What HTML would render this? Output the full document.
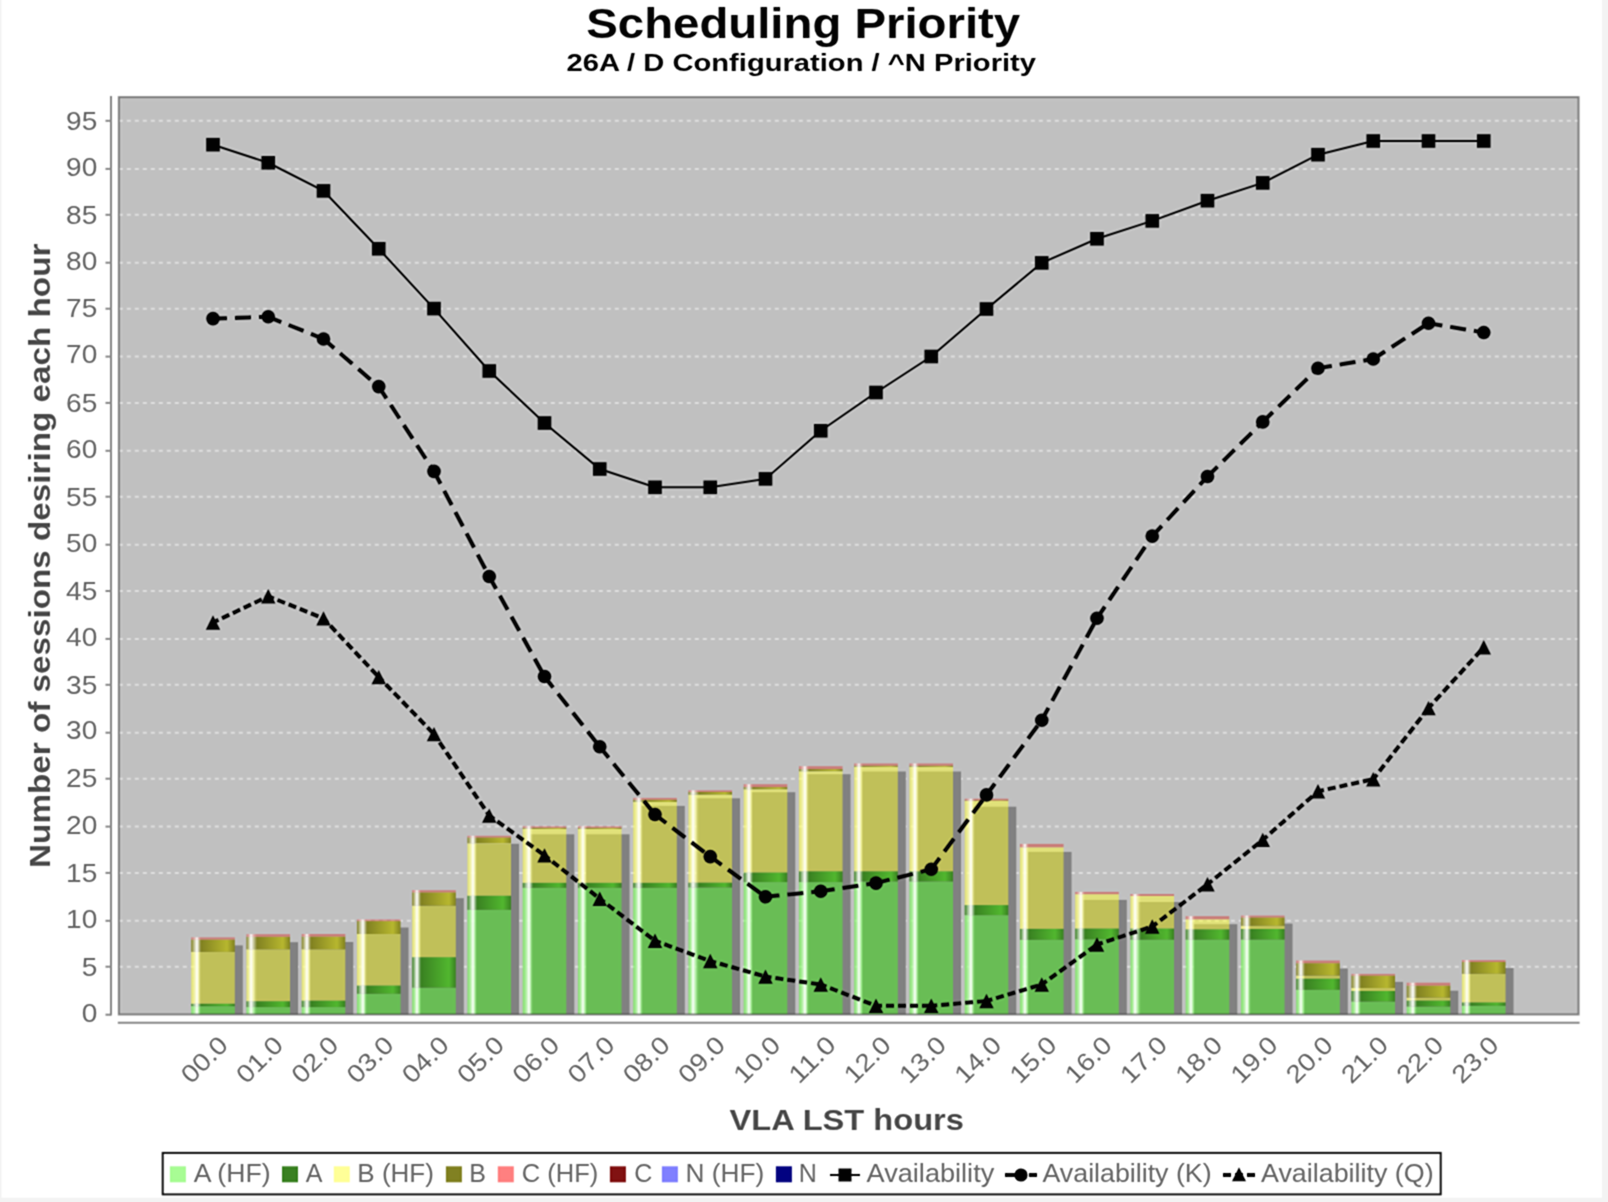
<!DOCTYPE html><html><head><meta charset="utf-8"><style>html,body{margin:0;padding:0;background:#f3f3f3;width:1608px;height:1202px}svg{display:block;will-change:transform}text{font-family:"Liberation Sans",sans-serif}</style></head><body>
<svg width="1608" height="1202" viewBox="0 0 1608 1202">
<defs>
<filter id="soft" x="0" y="0" width="1608" height="1202" filterUnits="userSpaceOnUse" color-interpolation-filters="sRGB"><feConvolveMatrix order="7" kernelMatrix="0.00027 0.00054 -0.00391 -0.01020 -0.00391 0.00054 0.00027 0.00054 0.00108 -0.00781 -0.02039 -0.00781 0.00108 0.00054 -0.00391 -0.00781 0.05678 0.14817 0.05678 -0.00781 -0.00391 -0.01020 -0.02039 0.14817 0.38668 0.14817 -0.02039 -0.01020 -0.00391 -0.00781 0.05678 0.14817 0.05678 -0.00781 -0.00391 0.00054 0.00108 -0.00781 -0.02039 -0.00781 0.00108 0.00054 0.00027 0.00054 -0.00391 -0.01020 -0.00391 0.00054 0.00027" divisor="1" edgeMode="duplicate"/></filter>
<linearGradient id="g00" x1="0" y1="0" x2="1" y2="0"><stop offset="0" stop-color="rgb(80,250,40)" stop-opacity="0.5"/><stop offset="1" stop-color="#fff" stop-opacity="1"/></linearGradient>
<linearGradient id="g01" x1="0" y1="0" x2="1" y2="0"><stop offset="0" stop-color="#fff" stop-opacity="1"/><stop offset="1" stop-color="rgb(80,250,40)" stop-opacity="0.5"/></linearGradient>
<linearGradient id="g02" x1="0" y1="0" x2="1" y2="0"><stop offset="0" stop-color="rgb(80,250,40)" stop-opacity="0.5"/><stop offset="1" stop-color="rgb(80,250,40)" stop-opacity="0.5"/></linearGradient>
<linearGradient id="g03" x1="0" y1="0" x2="1" y2="0"><stop offset="0" stop-color="rgb(80,250,40)" stop-opacity="0.5"/><stop offset="1" stop-color="rgb(80,250,40)" stop-opacity="0.5"/></linearGradient>
<linearGradient id="g10" x1="0" y1="0" x2="1" y2="0"><stop offset="0" stop-color="rgb(56,128,32)" stop-opacity="1.0"/><stop offset="1" stop-color="#fff" stop-opacity="1"/></linearGradient>
<linearGradient id="g11" x1="0" y1="0" x2="1" y2="0"><stop offset="0" stop-color="#fff" stop-opacity="1"/><stop offset="1" stop-color="rgb(56,128,32)" stop-opacity="1.0"/></linearGradient>
<linearGradient id="g12" x1="0" y1="0" x2="1" y2="0"><stop offset="0" stop-color="rgb(56,128,32)" stop-opacity="1.0"/><stop offset="1" stop-color="rgb(80,182,45)" stop-opacity="1.0"/></linearGradient>
<linearGradient id="g13" x1="0" y1="0" x2="1" y2="0"><stop offset="0" stop-color="rgb(80,182,45)" stop-opacity="1.0"/><stop offset="1" stop-color="rgb(56,128,32)" stop-opacity="1.0"/></linearGradient>
<linearGradient id="g20" x1="0" y1="0" x2="1" y2="0"><stop offset="0" stop-color="rgb(255,255,48)" stop-opacity="0.5"/><stop offset="1" stop-color="#fff" stop-opacity="1"/></linearGradient>
<linearGradient id="g21" x1="0" y1="0" x2="1" y2="0"><stop offset="0" stop-color="#fff" stop-opacity="1"/><stop offset="1" stop-color="rgb(255,255,48)" stop-opacity="0.5"/></linearGradient>
<linearGradient id="g22" x1="0" y1="0" x2="1" y2="0"><stop offset="0" stop-color="rgb(255,255,48)" stop-opacity="0.5"/><stop offset="1" stop-color="rgb(255,255,48)" stop-opacity="0.5"/></linearGradient>
<linearGradient id="g23" x1="0" y1="0" x2="1" y2="0"><stop offset="0" stop-color="rgb(255,255,48)" stop-opacity="0.5"/><stop offset="1" stop-color="rgb(255,255,48)" stop-opacity="0.5"/></linearGradient>
<linearGradient id="g30" x1="0" y1="0" x2="1" y2="0"><stop offset="0" stop-color="rgb(128,128,32)" stop-opacity="1.0"/><stop offset="1" stop-color="#fff" stop-opacity="1"/></linearGradient>
<linearGradient id="g31" x1="0" y1="0" x2="1" y2="0"><stop offset="0" stop-color="#fff" stop-opacity="1"/><stop offset="1" stop-color="rgb(128,128,32)" stop-opacity="1.0"/></linearGradient>
<linearGradient id="g32" x1="0" y1="0" x2="1" y2="0"><stop offset="0" stop-color="rgb(128,128,32)" stop-opacity="1.0"/><stop offset="1" stop-color="rgb(182,182,45)" stop-opacity="1.0"/></linearGradient>
<linearGradient id="g33" x1="0" y1="0" x2="1" y2="0"><stop offset="0" stop-color="rgb(182,182,45)" stop-opacity="1.0"/><stop offset="1" stop-color="rgb(128,128,32)" stop-opacity="1.0"/></linearGradient>
<linearGradient id="g40" x1="0" y1="0" x2="1" y2="0"><stop offset="0" stop-color="rgb(210,60,50)" stop-opacity="0.5"/><stop offset="1" stop-color="#fff" stop-opacity="1"/></linearGradient>
<linearGradient id="g41" x1="0" y1="0" x2="1" y2="0"><stop offset="0" stop-color="#fff" stop-opacity="1"/><stop offset="1" stop-color="rgb(210,60,50)" stop-opacity="0.5"/></linearGradient>
<linearGradient id="g42" x1="0" y1="0" x2="1" y2="0"><stop offset="0" stop-color="rgb(210,60,50)" stop-opacity="0.5"/><stop offset="1" stop-color="rgb(210,60,50)" stop-opacity="0.5"/></linearGradient>
<linearGradient id="g43" x1="0" y1="0" x2="1" y2="0"><stop offset="0" stop-color="rgb(210,60,50)" stop-opacity="0.5"/><stop offset="1" stop-color="rgb(210,60,50)" stop-opacity="0.5"/></linearGradient>
<linearGradient id="g50" x1="0" y1="0" x2="1" y2="0"><stop offset="0" stop-color="rgb(128,16,16)" stop-opacity="1.0"/><stop offset="1" stop-color="#fff" stop-opacity="1"/></linearGradient>
<linearGradient id="g51" x1="0" y1="0" x2="1" y2="0"><stop offset="0" stop-color="#fff" stop-opacity="1"/><stop offset="1" stop-color="rgb(128,16,16)" stop-opacity="1.0"/></linearGradient>
<linearGradient id="g52" x1="0" y1="0" x2="1" y2="0"><stop offset="0" stop-color="rgb(128,16,16)" stop-opacity="1.0"/><stop offset="1" stop-color="rgb(182,22,22)" stop-opacity="1.0"/></linearGradient>
<linearGradient id="g53" x1="0" y1="0" x2="1" y2="0"><stop offset="0" stop-color="rgb(182,22,22)" stop-opacity="1.0"/><stop offset="1" stop-color="rgb(128,16,16)" stop-opacity="1.0"/></linearGradient>
<linearGradient id="g60" x1="0" y1="0" x2="1" y2="0"><stop offset="0" stop-color="rgb(0,0,255)" stop-opacity="0.5"/><stop offset="1" stop-color="#fff" stop-opacity="1"/></linearGradient>
<linearGradient id="g61" x1="0" y1="0" x2="1" y2="0"><stop offset="0" stop-color="#fff" stop-opacity="1"/><stop offset="1" stop-color="rgb(0,0,255)" stop-opacity="0.5"/></linearGradient>
<linearGradient id="g62" x1="0" y1="0" x2="1" y2="0"><stop offset="0" stop-color="rgb(0,0,255)" stop-opacity="0.5"/><stop offset="1" stop-color="rgb(0,0,255)" stop-opacity="0.5"/></linearGradient>
<linearGradient id="g63" x1="0" y1="0" x2="1" y2="0"><stop offset="0" stop-color="rgb(0,0,255)" stop-opacity="0.5"/><stop offset="1" stop-color="rgb(0,0,255)" stop-opacity="0.5"/></linearGradient>
<linearGradient id="g70" x1="0" y1="0" x2="1" y2="0"><stop offset="0" stop-color="rgb(0,0,128)" stop-opacity="1.0"/><stop offset="1" stop-color="#fff" stop-opacity="1"/></linearGradient>
<linearGradient id="g71" x1="0" y1="0" x2="1" y2="0"><stop offset="0" stop-color="#fff" stop-opacity="1"/><stop offset="1" stop-color="rgb(0,0,128)" stop-opacity="1.0"/></linearGradient>
<linearGradient id="g72" x1="0" y1="0" x2="1" y2="0"><stop offset="0" stop-color="rgb(0,0,128)" stop-opacity="1.0"/><stop offset="1" stop-color="rgb(0,0,182)" stop-opacity="1.0"/></linearGradient>
<linearGradient id="g73" x1="0" y1="0" x2="1" y2="0"><stop offset="0" stop-color="rgb(0,0,182)" stop-opacity="1.0"/><stop offset="1" stop-color="rgb(0,0,128)" stop-opacity="1.0"/></linearGradient>
<clipPath id="plotclip"><rect x="118.80" y="97.10" width="1459.80" height="917.40"/></clipPath>
</defs>
<g filter="url(#soft)">
<rect x="1.5" y="0" width="1600.5" height="1197.7" fill="#fff"/>
<rect x="118.80" y="97.10" width="1459.80" height="917.40" fill="#c0c0c0"/>
<line x1="118.80" y1="966.70" x2="1578.60" y2="966.70" stroke="#dcdcdc" stroke-width="2" stroke-dasharray="4 4"/>
<line x1="118.80" y1="920.80" x2="1578.60" y2="920.80" stroke="#dcdcdc" stroke-width="2" stroke-dasharray="4 4"/>
<line x1="118.80" y1="872.90" x2="1578.60" y2="872.90" stroke="#dcdcdc" stroke-width="2" stroke-dasharray="4 4"/>
<line x1="118.80" y1="826.60" x2="1578.60" y2="826.60" stroke="#dcdcdc" stroke-width="2" stroke-dasharray="4 4"/>
<line x1="118.80" y1="778.70" x2="1578.60" y2="778.70" stroke="#dcdcdc" stroke-width="2" stroke-dasharray="4 4"/>
<line x1="118.80" y1="732.70" x2="1578.60" y2="732.70" stroke="#dcdcdc" stroke-width="2" stroke-dasharray="4 4"/>
<line x1="118.80" y1="684.80" x2="1578.60" y2="684.80" stroke="#dcdcdc" stroke-width="2" stroke-dasharray="4 4"/>
<line x1="118.80" y1="638.90" x2="1578.60" y2="638.90" stroke="#dcdcdc" stroke-width="2" stroke-dasharray="4 4"/>
<line x1="118.80" y1="591.00" x2="1578.60" y2="591.00" stroke="#dcdcdc" stroke-width="2" stroke-dasharray="4 4"/>
<line x1="118.80" y1="544.70" x2="1578.60" y2="544.70" stroke="#dcdcdc" stroke-width="2" stroke-dasharray="4 4"/>
<line x1="118.80" y1="496.70" x2="1578.60" y2="496.70" stroke="#dcdcdc" stroke-width="2" stroke-dasharray="4 4"/>
<line x1="118.80" y1="450.80" x2="1578.60" y2="450.80" stroke="#dcdcdc" stroke-width="2" stroke-dasharray="4 4"/>
<line x1="118.80" y1="402.90" x2="1578.60" y2="402.90" stroke="#dcdcdc" stroke-width="2" stroke-dasharray="4 4"/>
<line x1="118.80" y1="356.60" x2="1578.60" y2="356.60" stroke="#dcdcdc" stroke-width="2" stroke-dasharray="4 4"/>
<line x1="118.80" y1="308.70" x2="1578.60" y2="308.70" stroke="#dcdcdc" stroke-width="2" stroke-dasharray="4 4"/>
<line x1="118.80" y1="262.70" x2="1578.60" y2="262.70" stroke="#dcdcdc" stroke-width="2" stroke-dasharray="4 4"/>
<line x1="118.80" y1="214.80" x2="1578.60" y2="214.80" stroke="#dcdcdc" stroke-width="2" stroke-dasharray="4 4"/>
<line x1="118.80" y1="168.90" x2="1578.60" y2="168.90" stroke="#dcdcdc" stroke-width="2" stroke-dasharray="4 4"/>
<line x1="118.80" y1="120.80" x2="1578.60" y2="120.80" stroke="#dcdcdc" stroke-width="2" stroke-dasharray="4 4"/>
<g clip-path="url(#plotclip)">
<rect x="199.20" y="945.40" width="43.60" height="69.10" fill="#808080"/>
<rect x="254.45" y="942.20" width="43.60" height="72.30" fill="#808080"/>
<rect x="309.70" y="942.00" width="43.60" height="72.50" fill="#808080"/>
<rect x="364.95" y="927.50" width="43.60" height="87.00" fill="#808080"/>
<rect x="420.20" y="898.20" width="43.60" height="116.30" fill="#808080"/>
<rect x="475.45" y="843.80" width="43.60" height="170.70" fill="#808080"/>
<rect x="530.70" y="834.30" width="43.60" height="180.20" fill="#808080"/>
<rect x="585.95" y="834.30" width="43.60" height="180.20" fill="#808080"/>
<rect x="641.20" y="805.90" width="43.60" height="208.60" fill="#808080"/>
<rect x="696.45" y="798.30" width="43.60" height="216.20" fill="#808080"/>
<rect x="751.70" y="792.20" width="43.60" height="222.30" fill="#808080"/>
<rect x="806.95" y="774.20" width="43.60" height="240.30" fill="#808080"/>
<rect x="862.20" y="771.50" width="43.60" height="243.00" fill="#808080"/>
<rect x="917.45" y="771.50" width="43.60" height="243.00" fill="#808080"/>
<rect x="972.70" y="806.70" width="43.60" height="207.80" fill="#808080"/>
<rect x="1027.95" y="851.90" width="43.60" height="162.60" fill="#808080"/>
<rect x="1083.20" y="899.90" width="43.60" height="114.60" fill="#808080"/>
<rect x="1138.45" y="902.00" width="43.60" height="112.50" fill="#808080"/>
<rect x="1193.70" y="924.20" width="43.60" height="90.30" fill="#808080"/>
<rect x="1248.95" y="923.60" width="43.60" height="90.90" fill="#808080"/>
<rect x="1304.20" y="968.50" width="43.60" height="46.00" fill="#808080"/>
<rect x="1359.45" y="981.90" width="43.60" height="32.60" fill="#808080"/>
<rect x="1414.70" y="990.70" width="43.60" height="23.80" fill="#808080"/>
<rect x="1469.95" y="968.10" width="43.60" height="46.40" fill="#808080"/>
<rect x="191.20" y="1006.20" width="5.80" height="8.30" fill="url(#g00)"/>
<rect x="197.00" y="1006.20" width="4.00" height="8.30" fill="url(#g01)"/>
<rect x="201.00" y="1006.20" width="26.00" height="8.30" fill="url(#g02)"/>
<rect x="227.00" y="1006.20" width="7.80" height="8.30" fill="url(#g03)"/>
<rect x="191.20" y="1003.70" width="5.80" height="2.50" fill="url(#g10)"/>
<rect x="197.00" y="1003.70" width="4.00" height="2.50" fill="url(#g11)"/>
<rect x="201.00" y="1003.70" width="26.00" height="2.50" fill="url(#g12)"/>
<rect x="227.00" y="1003.70" width="7.80" height="2.50" fill="url(#g13)"/>
<rect x="191.20" y="951.90" width="5.80" height="51.80" fill="url(#g20)"/>
<rect x="197.00" y="951.90" width="4.00" height="51.80" fill="url(#g21)"/>
<rect x="201.00" y="951.90" width="26.00" height="51.80" fill="url(#g22)"/>
<rect x="227.00" y="951.90" width="7.80" height="51.80" fill="url(#g23)"/>
<rect x="191.20" y="939.60" width="5.80" height="12.30" fill="url(#g30)"/>
<rect x="197.00" y="939.60" width="4.00" height="12.30" fill="url(#g31)"/>
<rect x="201.00" y="939.60" width="26.00" height="12.30" fill="url(#g32)"/>
<rect x="227.00" y="939.60" width="7.80" height="12.30" fill="url(#g33)"/>
<rect x="191.20" y="937.40" width="5.80" height="2.20" fill="url(#g40)"/>
<rect x="197.00" y="937.40" width="4.00" height="2.20" fill="url(#g41)"/>
<rect x="201.00" y="937.40" width="26.00" height="2.20" fill="url(#g42)"/>
<rect x="227.00" y="937.40" width="7.80" height="2.20" fill="url(#g43)"/>
<rect x="246.45" y="1007.10" width="4.55" height="7.40" fill="url(#g00)"/>
<rect x="251.00" y="1007.10" width="6.00" height="7.40" fill="url(#g01)"/>
<rect x="257.00" y="1007.10" width="26.00" height="7.40" fill="url(#g02)"/>
<rect x="283.00" y="1007.10" width="7.05" height="7.40" fill="url(#g03)"/>
<rect x="246.45" y="1001.20" width="4.55" height="5.90" fill="url(#g10)"/>
<rect x="251.00" y="1001.20" width="6.00" height="5.90" fill="url(#g11)"/>
<rect x="257.00" y="1001.20" width="26.00" height="5.90" fill="url(#g12)"/>
<rect x="283.00" y="1001.20" width="7.05" height="5.90" fill="url(#g13)"/>
<rect x="246.45" y="949.30" width="4.55" height="51.90" fill="url(#g20)"/>
<rect x="251.00" y="949.30" width="6.00" height="51.90" fill="url(#g21)"/>
<rect x="257.00" y="949.30" width="26.00" height="51.90" fill="url(#g22)"/>
<rect x="283.00" y="949.30" width="7.05" height="51.90" fill="url(#g23)"/>
<rect x="246.45" y="936.80" width="4.55" height="12.50" fill="url(#g30)"/>
<rect x="251.00" y="936.80" width="6.00" height="12.50" fill="url(#g31)"/>
<rect x="257.00" y="936.80" width="26.00" height="12.50" fill="url(#g32)"/>
<rect x="283.00" y="936.80" width="7.05" height="12.50" fill="url(#g33)"/>
<rect x="246.45" y="934.20" width="4.55" height="2.60" fill="url(#g40)"/>
<rect x="251.00" y="934.20" width="6.00" height="2.60" fill="url(#g41)"/>
<rect x="257.00" y="934.20" width="26.00" height="2.60" fill="url(#g42)"/>
<rect x="283.00" y="934.20" width="7.05" height="2.60" fill="url(#g43)"/>
<rect x="301.70" y="1007.10" width="5.30" height="7.40" fill="url(#g00)"/>
<rect x="307.00" y="1007.10" width="4.00" height="7.40" fill="url(#g01)"/>
<rect x="311.00" y="1007.10" width="26.00" height="7.40" fill="url(#g02)"/>
<rect x="337.00" y="1007.10" width="8.30" height="7.40" fill="url(#g03)"/>
<rect x="301.70" y="1000.60" width="5.30" height="6.50" fill="url(#g10)"/>
<rect x="307.00" y="1000.60" width="4.00" height="6.50" fill="url(#g11)"/>
<rect x="311.00" y="1000.60" width="26.00" height="6.50" fill="url(#g12)"/>
<rect x="337.00" y="1000.60" width="8.30" height="6.50" fill="url(#g13)"/>
<rect x="301.70" y="949.30" width="5.30" height="51.30" fill="url(#g20)"/>
<rect x="307.00" y="949.30" width="4.00" height="51.30" fill="url(#g21)"/>
<rect x="311.00" y="949.30" width="26.00" height="51.30" fill="url(#g22)"/>
<rect x="337.00" y="949.30" width="8.30" height="51.30" fill="url(#g23)"/>
<rect x="301.70" y="936.60" width="5.30" height="12.70" fill="url(#g30)"/>
<rect x="307.00" y="936.60" width="4.00" height="12.70" fill="url(#g31)"/>
<rect x="311.00" y="936.60" width="26.00" height="12.70" fill="url(#g32)"/>
<rect x="337.00" y="936.60" width="8.30" height="12.70" fill="url(#g33)"/>
<rect x="301.70" y="934.00" width="5.30" height="2.60" fill="url(#g40)"/>
<rect x="307.00" y="934.00" width="4.00" height="2.60" fill="url(#g41)"/>
<rect x="311.00" y="934.00" width="26.00" height="2.60" fill="url(#g42)"/>
<rect x="337.00" y="934.00" width="8.30" height="2.60" fill="url(#g43)"/>
<rect x="356.95" y="993.80" width="6.05" height="20.70" fill="url(#g00)"/>
<rect x="363.00" y="993.80" width="4.00" height="20.70" fill="url(#g01)"/>
<rect x="367.00" y="993.80" width="26.00" height="20.70" fill="url(#g02)"/>
<rect x="393.00" y="993.80" width="7.55" height="20.70" fill="url(#g03)"/>
<rect x="356.95" y="985.50" width="6.05" height="8.30" fill="url(#g10)"/>
<rect x="363.00" y="985.50" width="4.00" height="8.30" fill="url(#g11)"/>
<rect x="367.00" y="985.50" width="26.00" height="8.30" fill="url(#g12)"/>
<rect x="393.00" y="985.50" width="7.55" height="8.30" fill="url(#g13)"/>
<rect x="356.95" y="934.00" width="6.05" height="51.50" fill="url(#g20)"/>
<rect x="363.00" y="934.00" width="4.00" height="51.50" fill="url(#g21)"/>
<rect x="367.00" y="934.00" width="26.00" height="51.50" fill="url(#g22)"/>
<rect x="393.00" y="934.00" width="7.55" height="51.50" fill="url(#g23)"/>
<rect x="356.95" y="921.10" width="6.05" height="12.90" fill="url(#g30)"/>
<rect x="363.00" y="921.10" width="4.00" height="12.90" fill="url(#g31)"/>
<rect x="367.00" y="921.10" width="26.00" height="12.90" fill="url(#g32)"/>
<rect x="393.00" y="921.10" width="7.55" height="12.90" fill="url(#g33)"/>
<rect x="356.95" y="919.50" width="6.05" height="1.60" fill="url(#g40)"/>
<rect x="363.00" y="919.50" width="4.00" height="1.60" fill="url(#g41)"/>
<rect x="367.00" y="919.50" width="26.00" height="1.60" fill="url(#g42)"/>
<rect x="393.00" y="919.50" width="7.55" height="1.60" fill="url(#g43)"/>
<rect x="412.20" y="987.70" width="4.80" height="26.80" fill="url(#g00)"/>
<rect x="417.00" y="987.70" width="4.00" height="26.80" fill="url(#g01)"/>
<rect x="421.00" y="987.70" width="28.00" height="26.80" fill="url(#g02)"/>
<rect x="449.00" y="987.70" width="6.80" height="26.80" fill="url(#g03)"/>
<rect x="412.20" y="957.20" width="4.80" height="30.50" fill="url(#g10)"/>
<rect x="417.00" y="957.20" width="4.00" height="30.50" fill="url(#g11)"/>
<rect x="421.00" y="957.20" width="28.00" height="30.50" fill="url(#g12)"/>
<rect x="449.00" y="957.20" width="6.80" height="30.50" fill="url(#g13)"/>
<rect x="412.20" y="905.70" width="4.80" height="51.50" fill="url(#g20)"/>
<rect x="417.00" y="905.70" width="4.00" height="51.50" fill="url(#g21)"/>
<rect x="421.00" y="905.70" width="28.00" height="51.50" fill="url(#g22)"/>
<rect x="449.00" y="905.70" width="6.80" height="51.50" fill="url(#g23)"/>
<rect x="412.20" y="892.40" width="4.80" height="13.30" fill="url(#g30)"/>
<rect x="417.00" y="892.40" width="4.00" height="13.30" fill="url(#g31)"/>
<rect x="421.00" y="892.40" width="28.00" height="13.30" fill="url(#g32)"/>
<rect x="449.00" y="892.40" width="6.80" height="13.30" fill="url(#g33)"/>
<rect x="412.20" y="890.20" width="4.80" height="2.20" fill="url(#g40)"/>
<rect x="417.00" y="890.20" width="4.00" height="2.20" fill="url(#g41)"/>
<rect x="421.00" y="890.20" width="28.00" height="2.20" fill="url(#g42)"/>
<rect x="449.00" y="890.20" width="6.80" height="2.20" fill="url(#g43)"/>
<rect x="467.45" y="909.80" width="5.55" height="104.70" fill="url(#g00)"/>
<rect x="473.00" y="909.80" width="4.00" height="104.70" fill="url(#g01)"/>
<rect x="477.00" y="909.80" width="26.00" height="104.70" fill="url(#g02)"/>
<rect x="503.00" y="909.80" width="8.05" height="104.70" fill="url(#g03)"/>
<rect x="467.45" y="895.70" width="5.55" height="14.10" fill="url(#g10)"/>
<rect x="473.00" y="895.70" width="4.00" height="14.10" fill="url(#g11)"/>
<rect x="477.00" y="895.70" width="26.00" height="14.10" fill="url(#g12)"/>
<rect x="503.00" y="895.70" width="8.05" height="14.10" fill="url(#g13)"/>
<rect x="467.45" y="843.30" width="5.55" height="52.40" fill="url(#g20)"/>
<rect x="473.00" y="843.30" width="4.00" height="52.40" fill="url(#g21)"/>
<rect x="477.00" y="843.30" width="26.00" height="52.40" fill="url(#g22)"/>
<rect x="503.00" y="843.30" width="8.05" height="52.40" fill="url(#g23)"/>
<rect x="467.45" y="837.50" width="5.55" height="5.80" fill="url(#g30)"/>
<rect x="473.00" y="837.50" width="4.00" height="5.80" fill="url(#g31)"/>
<rect x="477.00" y="837.50" width="26.00" height="5.80" fill="url(#g32)"/>
<rect x="503.00" y="837.50" width="8.05" height="5.80" fill="url(#g33)"/>
<rect x="467.45" y="835.80" width="5.55" height="1.70" fill="url(#g40)"/>
<rect x="473.00" y="835.80" width="4.00" height="1.70" fill="url(#g41)"/>
<rect x="477.00" y="835.80" width="26.00" height="1.70" fill="url(#g42)"/>
<rect x="503.00" y="835.80" width="8.05" height="1.70" fill="url(#g43)"/>
<rect x="522.70" y="887.80" width="6.30" height="126.70" fill="url(#g00)"/>
<rect x="529.00" y="887.80" width="4.00" height="126.70" fill="url(#g01)"/>
<rect x="533.00" y="887.80" width="26.00" height="126.70" fill="url(#g02)"/>
<rect x="559.00" y="887.80" width="7.30" height="126.70" fill="url(#g03)"/>
<rect x="522.70" y="882.80" width="6.30" height="5.00" fill="url(#g10)"/>
<rect x="529.00" y="882.80" width="4.00" height="5.00" fill="url(#g11)"/>
<rect x="533.00" y="882.80" width="26.00" height="5.00" fill="url(#g12)"/>
<rect x="559.00" y="882.80" width="7.30" height="5.00" fill="url(#g13)"/>
<rect x="522.70" y="828.90" width="6.30" height="53.90" fill="url(#g20)"/>
<rect x="529.00" y="828.90" width="4.00" height="53.90" fill="url(#g21)"/>
<rect x="533.00" y="828.90" width="26.00" height="53.90" fill="url(#g22)"/>
<rect x="559.00" y="828.90" width="7.30" height="53.90" fill="url(#g23)"/>
<rect x="522.70" y="827.80" width="6.30" height="1.10" fill="url(#g30)"/>
<rect x="529.00" y="827.80" width="4.00" height="1.10" fill="url(#g31)"/>
<rect x="533.00" y="827.80" width="26.00" height="1.10" fill="url(#g32)"/>
<rect x="559.00" y="827.80" width="7.30" height="1.10" fill="url(#g33)"/>
<rect x="522.70" y="826.30" width="6.30" height="1.50" fill="url(#g40)"/>
<rect x="529.00" y="826.30" width="4.00" height="1.50" fill="url(#g41)"/>
<rect x="533.00" y="826.30" width="26.00" height="1.50" fill="url(#g42)"/>
<rect x="559.00" y="826.30" width="7.30" height="1.50" fill="url(#g43)"/>
<rect x="577.95" y="887.80" width="5.05" height="126.70" fill="url(#g00)"/>
<rect x="583.00" y="887.80" width="4.00" height="126.70" fill="url(#g01)"/>
<rect x="587.00" y="887.80" width="26.00" height="126.70" fill="url(#g02)"/>
<rect x="613.00" y="887.80" width="8.55" height="126.70" fill="url(#g03)"/>
<rect x="577.95" y="882.80" width="5.05" height="5.00" fill="url(#g10)"/>
<rect x="583.00" y="882.80" width="4.00" height="5.00" fill="url(#g11)"/>
<rect x="587.00" y="882.80" width="26.00" height="5.00" fill="url(#g12)"/>
<rect x="613.00" y="882.80" width="8.55" height="5.00" fill="url(#g13)"/>
<rect x="577.95" y="828.90" width="5.05" height="53.90" fill="url(#g20)"/>
<rect x="583.00" y="828.90" width="4.00" height="53.90" fill="url(#g21)"/>
<rect x="587.00" y="828.90" width="26.00" height="53.90" fill="url(#g22)"/>
<rect x="613.00" y="828.90" width="8.55" height="53.90" fill="url(#g23)"/>
<rect x="577.95" y="827.80" width="5.05" height="1.10" fill="url(#g30)"/>
<rect x="583.00" y="827.80" width="4.00" height="1.10" fill="url(#g31)"/>
<rect x="587.00" y="827.80" width="26.00" height="1.10" fill="url(#g32)"/>
<rect x="613.00" y="827.80" width="8.55" height="1.10" fill="url(#g33)"/>
<rect x="577.95" y="826.30" width="5.05" height="1.50" fill="url(#g40)"/>
<rect x="583.00" y="826.30" width="4.00" height="1.50" fill="url(#g41)"/>
<rect x="587.00" y="826.30" width="26.00" height="1.50" fill="url(#g42)"/>
<rect x="613.00" y="826.30" width="8.55" height="1.50" fill="url(#g43)"/>
<rect x="633.20" y="887.80" width="5.80" height="126.70" fill="url(#g00)"/>
<rect x="639.00" y="887.80" width="4.00" height="126.70" fill="url(#g01)"/>
<rect x="643.00" y="887.80" width="26.00" height="126.70" fill="url(#g02)"/>
<rect x="669.00" y="887.80" width="7.80" height="126.70" fill="url(#g03)"/>
<rect x="633.20" y="882.80" width="5.80" height="5.00" fill="url(#g10)"/>
<rect x="639.00" y="882.80" width="4.00" height="5.00" fill="url(#g11)"/>
<rect x="643.00" y="882.80" width="26.00" height="5.00" fill="url(#g12)"/>
<rect x="669.00" y="882.80" width="7.80" height="5.00" fill="url(#g13)"/>
<rect x="633.20" y="801.90" width="5.80" height="80.90" fill="url(#g20)"/>
<rect x="639.00" y="801.90" width="4.00" height="80.90" fill="url(#g21)"/>
<rect x="643.00" y="801.90" width="26.00" height="80.90" fill="url(#g22)"/>
<rect x="669.00" y="801.90" width="7.80" height="80.90" fill="url(#g23)"/>
<rect x="633.20" y="799.80" width="5.80" height="2.10" fill="url(#g30)"/>
<rect x="639.00" y="799.80" width="4.00" height="2.10" fill="url(#g31)"/>
<rect x="643.00" y="799.80" width="26.00" height="2.10" fill="url(#g32)"/>
<rect x="669.00" y="799.80" width="7.80" height="2.10" fill="url(#g33)"/>
<rect x="633.20" y="797.90" width="5.80" height="1.90" fill="url(#g40)"/>
<rect x="639.00" y="797.90" width="4.00" height="1.90" fill="url(#g41)"/>
<rect x="643.00" y="797.90" width="26.00" height="1.90" fill="url(#g42)"/>
<rect x="669.00" y="797.90" width="7.80" height="1.90" fill="url(#g43)"/>
<rect x="688.45" y="887.50" width="4.55" height="127.00" fill="url(#g00)"/>
<rect x="693.00" y="887.50" width="6.00" height="127.00" fill="url(#g01)"/>
<rect x="699.00" y="887.50" width="26.00" height="127.00" fill="url(#g02)"/>
<rect x="725.00" y="887.50" width="7.05" height="127.00" fill="url(#g03)"/>
<rect x="688.45" y="882.60" width="4.55" height="4.90" fill="url(#g10)"/>
<rect x="693.00" y="882.60" width="6.00" height="4.90" fill="url(#g11)"/>
<rect x="699.00" y="882.60" width="26.00" height="4.90" fill="url(#g12)"/>
<rect x="725.00" y="882.60" width="7.05" height="4.90" fill="url(#g13)"/>
<rect x="688.45" y="794.70" width="4.55" height="87.90" fill="url(#g20)"/>
<rect x="693.00" y="794.70" width="6.00" height="87.90" fill="url(#g21)"/>
<rect x="699.00" y="794.70" width="26.00" height="87.90" fill="url(#g22)"/>
<rect x="725.00" y="794.70" width="7.05" height="87.90" fill="url(#g23)"/>
<rect x="688.45" y="792.00" width="4.55" height="2.70" fill="url(#g30)"/>
<rect x="693.00" y="792.00" width="6.00" height="2.70" fill="url(#g31)"/>
<rect x="699.00" y="792.00" width="26.00" height="2.70" fill="url(#g32)"/>
<rect x="725.00" y="792.00" width="7.05" height="2.70" fill="url(#g33)"/>
<rect x="688.45" y="790.30" width="4.55" height="1.70" fill="url(#g40)"/>
<rect x="693.00" y="790.30" width="6.00" height="1.70" fill="url(#g41)"/>
<rect x="699.00" y="790.30" width="26.00" height="1.70" fill="url(#g42)"/>
<rect x="725.00" y="790.30" width="7.05" height="1.70" fill="url(#g43)"/>
<rect x="743.70" y="882.10" width="5.30" height="132.40" fill="url(#g00)"/>
<rect x="749.00" y="882.10" width="4.00" height="132.40" fill="url(#g01)"/>
<rect x="753.00" y="882.10" width="26.00" height="132.40" fill="url(#g02)"/>
<rect x="779.00" y="882.10" width="8.30" height="132.40" fill="url(#g03)"/>
<rect x="743.70" y="872.50" width="5.30" height="9.60" fill="url(#g10)"/>
<rect x="749.00" y="872.50" width="4.00" height="9.60" fill="url(#g11)"/>
<rect x="753.00" y="872.50" width="26.00" height="9.60" fill="url(#g12)"/>
<rect x="779.00" y="872.50" width="8.30" height="9.60" fill="url(#g13)"/>
<rect x="743.70" y="789.30" width="5.30" height="83.20" fill="url(#g20)"/>
<rect x="749.00" y="789.30" width="4.00" height="83.20" fill="url(#g21)"/>
<rect x="753.00" y="789.30" width="26.00" height="83.20" fill="url(#g22)"/>
<rect x="779.00" y="789.30" width="8.30" height="83.20" fill="url(#g23)"/>
<rect x="743.70" y="787.10" width="5.30" height="2.20" fill="url(#g30)"/>
<rect x="749.00" y="787.10" width="4.00" height="2.20" fill="url(#g31)"/>
<rect x="753.00" y="787.10" width="26.00" height="2.20" fill="url(#g32)"/>
<rect x="779.00" y="787.10" width="8.30" height="2.20" fill="url(#g33)"/>
<rect x="743.70" y="784.20" width="5.30" height="2.90" fill="url(#g40)"/>
<rect x="749.00" y="784.20" width="4.00" height="2.90" fill="url(#g41)"/>
<rect x="753.00" y="784.20" width="26.00" height="2.90" fill="url(#g42)"/>
<rect x="779.00" y="784.20" width="8.30" height="2.90" fill="url(#g43)"/>
<rect x="798.95" y="882.10" width="6.05" height="132.40" fill="url(#g00)"/>
<rect x="805.00" y="882.10" width="4.00" height="132.40" fill="url(#g01)"/>
<rect x="809.00" y="882.10" width="26.00" height="132.40" fill="url(#g02)"/>
<rect x="835.00" y="882.10" width="7.55" height="132.40" fill="url(#g03)"/>
<rect x="798.95" y="871.30" width="6.05" height="10.80" fill="url(#g10)"/>
<rect x="805.00" y="871.30" width="4.00" height="10.80" fill="url(#g11)"/>
<rect x="809.00" y="871.30" width="26.00" height="10.80" fill="url(#g12)"/>
<rect x="835.00" y="871.30" width="7.55" height="10.80" fill="url(#g13)"/>
<rect x="798.95" y="771.30" width="6.05" height="100.00" fill="url(#g20)"/>
<rect x="805.00" y="771.30" width="4.00" height="100.00" fill="url(#g21)"/>
<rect x="809.00" y="771.30" width="26.00" height="100.00" fill="url(#g22)"/>
<rect x="835.00" y="771.30" width="7.55" height="100.00" fill="url(#g23)"/>
<rect x="798.95" y="769.10" width="6.05" height="2.20" fill="url(#g30)"/>
<rect x="805.00" y="769.10" width="4.00" height="2.20" fill="url(#g31)"/>
<rect x="809.00" y="769.10" width="26.00" height="2.20" fill="url(#g32)"/>
<rect x="835.00" y="769.10" width="7.55" height="2.20" fill="url(#g33)"/>
<rect x="798.95" y="766.20" width="6.05" height="2.90" fill="url(#g40)"/>
<rect x="805.00" y="766.20" width="4.00" height="2.90" fill="url(#g41)"/>
<rect x="809.00" y="766.20" width="26.00" height="2.90" fill="url(#g42)"/>
<rect x="835.00" y="766.20" width="7.55" height="2.90" fill="url(#g43)"/>
<rect x="854.20" y="881.50" width="4.80" height="133.00" fill="url(#g00)"/>
<rect x="859.00" y="881.50" width="4.00" height="133.00" fill="url(#g01)"/>
<rect x="863.00" y="881.50" width="28.00" height="133.00" fill="url(#g02)"/>
<rect x="891.00" y="881.50" width="6.80" height="133.00" fill="url(#g03)"/>
<rect x="854.20" y="871.30" width="4.80" height="10.20" fill="url(#g10)"/>
<rect x="859.00" y="871.30" width="4.00" height="10.20" fill="url(#g11)"/>
<rect x="863.00" y="871.30" width="28.00" height="10.20" fill="url(#g12)"/>
<rect x="891.00" y="871.30" width="6.80" height="10.20" fill="url(#g13)"/>
<rect x="854.20" y="766.90" width="4.80" height="104.40" fill="url(#g20)"/>
<rect x="859.00" y="766.90" width="4.00" height="104.40" fill="url(#g21)"/>
<rect x="863.00" y="766.90" width="28.00" height="104.40" fill="url(#g22)"/>
<rect x="891.00" y="766.90" width="6.80" height="104.40" fill="url(#g23)"/>
<rect x="854.20" y="765.70" width="4.80" height="1.20" fill="url(#g30)"/>
<rect x="859.00" y="765.70" width="4.00" height="1.20" fill="url(#g31)"/>
<rect x="863.00" y="765.70" width="28.00" height="1.20" fill="url(#g32)"/>
<rect x="891.00" y="765.70" width="6.80" height="1.20" fill="url(#g33)"/>
<rect x="854.20" y="763.50" width="4.80" height="2.20" fill="url(#g40)"/>
<rect x="859.00" y="763.50" width="4.00" height="2.20" fill="url(#g41)"/>
<rect x="863.00" y="763.50" width="28.00" height="2.20" fill="url(#g42)"/>
<rect x="891.00" y="763.50" width="6.80" height="2.20" fill="url(#g43)"/>
<rect x="909.45" y="881.50" width="5.55" height="133.00" fill="url(#g00)"/>
<rect x="915.00" y="881.50" width="4.00" height="133.00" fill="url(#g01)"/>
<rect x="919.00" y="881.50" width="26.00" height="133.00" fill="url(#g02)"/>
<rect x="945.00" y="881.50" width="8.05" height="133.00" fill="url(#g03)"/>
<rect x="909.45" y="871.30" width="5.55" height="10.20" fill="url(#g10)"/>
<rect x="915.00" y="871.30" width="4.00" height="10.20" fill="url(#g11)"/>
<rect x="919.00" y="871.30" width="26.00" height="10.20" fill="url(#g12)"/>
<rect x="945.00" y="871.30" width="8.05" height="10.20" fill="url(#g13)"/>
<rect x="909.45" y="766.90" width="5.55" height="104.40" fill="url(#g20)"/>
<rect x="915.00" y="766.90" width="4.00" height="104.40" fill="url(#g21)"/>
<rect x="919.00" y="766.90" width="26.00" height="104.40" fill="url(#g22)"/>
<rect x="945.00" y="766.90" width="8.05" height="104.40" fill="url(#g23)"/>
<rect x="909.45" y="765.70" width="5.55" height="1.20" fill="url(#g30)"/>
<rect x="915.00" y="765.70" width="4.00" height="1.20" fill="url(#g31)"/>
<rect x="919.00" y="765.70" width="26.00" height="1.20" fill="url(#g32)"/>
<rect x="945.00" y="765.70" width="8.05" height="1.20" fill="url(#g33)"/>
<rect x="909.45" y="763.50" width="5.55" height="2.20" fill="url(#g40)"/>
<rect x="915.00" y="763.50" width="4.00" height="2.20" fill="url(#g41)"/>
<rect x="919.00" y="763.50" width="26.00" height="2.20" fill="url(#g42)"/>
<rect x="945.00" y="763.50" width="8.05" height="2.20" fill="url(#g43)"/>
<rect x="964.70" y="915.20" width="6.30" height="99.30" fill="url(#g00)"/>
<rect x="971.00" y="915.20" width="4.00" height="99.30" fill="url(#g01)"/>
<rect x="975.00" y="915.20" width="26.00" height="99.30" fill="url(#g02)"/>
<rect x="1001.00" y="915.20" width="7.30" height="99.30" fill="url(#g03)"/>
<rect x="964.70" y="905.10" width="6.30" height="10.10" fill="url(#g10)"/>
<rect x="971.00" y="905.10" width="4.00" height="10.10" fill="url(#g11)"/>
<rect x="975.00" y="905.10" width="26.00" height="10.10" fill="url(#g12)"/>
<rect x="1001.00" y="905.10" width="7.30" height="10.10" fill="url(#g13)"/>
<rect x="964.70" y="801.00" width="6.30" height="104.10" fill="url(#g20)"/>
<rect x="971.00" y="801.00" width="4.00" height="104.10" fill="url(#g21)"/>
<rect x="975.00" y="801.00" width="26.00" height="104.10" fill="url(#g22)"/>
<rect x="1001.00" y="801.00" width="7.30" height="104.10" fill="url(#g23)"/>
<rect x="964.70" y="800.40" width="6.30" height="0.60" fill="url(#g30)"/>
<rect x="971.00" y="800.40" width="4.00" height="0.60" fill="url(#g31)"/>
<rect x="975.00" y="800.40" width="26.00" height="0.60" fill="url(#g32)"/>
<rect x="1001.00" y="800.40" width="7.30" height="0.60" fill="url(#g33)"/>
<rect x="964.70" y="798.70" width="6.30" height="1.70" fill="url(#g40)"/>
<rect x="971.00" y="798.70" width="4.00" height="1.70" fill="url(#g41)"/>
<rect x="975.00" y="798.70" width="26.00" height="1.70" fill="url(#g42)"/>
<rect x="1001.00" y="798.70" width="7.30" height="1.70" fill="url(#g43)"/>
<rect x="1019.95" y="939.80" width="5.05" height="74.70" fill="url(#g00)"/>
<rect x="1025.00" y="939.80" width="4.00" height="74.70" fill="url(#g01)"/>
<rect x="1029.00" y="939.80" width="26.00" height="74.70" fill="url(#g02)"/>
<rect x="1055.00" y="939.80" width="8.55" height="74.70" fill="url(#g03)"/>
<rect x="1019.95" y="928.80" width="5.05" height="11.00" fill="url(#g10)"/>
<rect x="1025.00" y="928.80" width="4.00" height="11.00" fill="url(#g11)"/>
<rect x="1029.00" y="928.80" width="26.00" height="11.00" fill="url(#g12)"/>
<rect x="1055.00" y="928.80" width="8.55" height="11.00" fill="url(#g13)"/>
<rect x="1019.95" y="847.30" width="5.05" height="81.50" fill="url(#g20)"/>
<rect x="1025.00" y="847.30" width="4.00" height="81.50" fill="url(#g21)"/>
<rect x="1029.00" y="847.30" width="26.00" height="81.50" fill="url(#g22)"/>
<rect x="1055.00" y="847.30" width="8.55" height="81.50" fill="url(#g23)"/>
<rect x="1019.95" y="843.90" width="5.05" height="3.40" fill="url(#g40)"/>
<rect x="1025.00" y="843.90" width="4.00" height="3.40" fill="url(#g41)"/>
<rect x="1029.00" y="843.90" width="26.00" height="3.40" fill="url(#g42)"/>
<rect x="1055.00" y="843.90" width="8.55" height="3.40" fill="url(#g43)"/>
<rect x="1075.20" y="939.30" width="5.80" height="75.20" fill="url(#g00)"/>
<rect x="1081.00" y="939.30" width="4.00" height="75.20" fill="url(#g01)"/>
<rect x="1085.00" y="939.30" width="26.00" height="75.20" fill="url(#g02)"/>
<rect x="1111.00" y="939.30" width="7.80" height="75.20" fill="url(#g03)"/>
<rect x="1075.20" y="928.50" width="5.80" height="10.80" fill="url(#g10)"/>
<rect x="1081.00" y="928.50" width="4.00" height="10.80" fill="url(#g11)"/>
<rect x="1085.00" y="928.50" width="26.00" height="10.80" fill="url(#g12)"/>
<rect x="1111.00" y="928.50" width="7.80" height="10.80" fill="url(#g13)"/>
<rect x="1075.20" y="894.20" width="5.80" height="34.30" fill="url(#g20)"/>
<rect x="1081.00" y="894.20" width="4.00" height="34.30" fill="url(#g21)"/>
<rect x="1085.00" y="894.20" width="26.00" height="34.30" fill="url(#g22)"/>
<rect x="1111.00" y="894.20" width="7.80" height="34.30" fill="url(#g23)"/>
<rect x="1075.20" y="891.90" width="5.80" height="2.30" fill="url(#g40)"/>
<rect x="1081.00" y="891.90" width="4.00" height="2.30" fill="url(#g41)"/>
<rect x="1085.00" y="891.90" width="26.00" height="2.30" fill="url(#g42)"/>
<rect x="1111.00" y="891.90" width="7.80" height="2.30" fill="url(#g43)"/>
<rect x="1130.45" y="939.70" width="4.55" height="74.80" fill="url(#g00)"/>
<rect x="1135.00" y="939.70" width="6.00" height="74.80" fill="url(#g01)"/>
<rect x="1141.00" y="939.70" width="26.00" height="74.80" fill="url(#g02)"/>
<rect x="1167.00" y="939.70" width="7.05" height="74.80" fill="url(#g03)"/>
<rect x="1130.45" y="928.50" width="4.55" height="11.20" fill="url(#g10)"/>
<rect x="1135.00" y="928.50" width="6.00" height="11.20" fill="url(#g11)"/>
<rect x="1141.00" y="928.50" width="26.00" height="11.20" fill="url(#g12)"/>
<rect x="1167.00" y="928.50" width="7.05" height="11.20" fill="url(#g13)"/>
<rect x="1130.45" y="896.00" width="4.55" height="32.50" fill="url(#g20)"/>
<rect x="1135.00" y="896.00" width="6.00" height="32.50" fill="url(#g21)"/>
<rect x="1141.00" y="896.00" width="26.00" height="32.50" fill="url(#g22)"/>
<rect x="1167.00" y="896.00" width="7.05" height="32.50" fill="url(#g23)"/>
<rect x="1130.45" y="894.00" width="4.55" height="2.00" fill="url(#g40)"/>
<rect x="1135.00" y="894.00" width="6.00" height="2.00" fill="url(#g41)"/>
<rect x="1141.00" y="894.00" width="26.00" height="2.00" fill="url(#g42)"/>
<rect x="1167.00" y="894.00" width="7.05" height="2.00" fill="url(#g43)"/>
<rect x="1185.70" y="939.70" width="5.30" height="74.80" fill="url(#g00)"/>
<rect x="1191.00" y="939.70" width="4.00" height="74.80" fill="url(#g01)"/>
<rect x="1195.00" y="939.70" width="26.00" height="74.80" fill="url(#g02)"/>
<rect x="1221.00" y="939.70" width="8.30" height="74.80" fill="url(#g03)"/>
<rect x="1185.70" y="929.30" width="5.30" height="10.40" fill="url(#g10)"/>
<rect x="1191.00" y="929.30" width="4.00" height="10.40" fill="url(#g11)"/>
<rect x="1195.00" y="929.30" width="26.00" height="10.40" fill="url(#g12)"/>
<rect x="1221.00" y="929.30" width="8.30" height="10.40" fill="url(#g13)"/>
<rect x="1185.70" y="919.30" width="5.30" height="10.00" fill="url(#g20)"/>
<rect x="1191.00" y="919.30" width="4.00" height="10.00" fill="url(#g21)"/>
<rect x="1195.00" y="919.30" width="26.00" height="10.00" fill="url(#g22)"/>
<rect x="1221.00" y="919.30" width="8.30" height="10.00" fill="url(#g23)"/>
<rect x="1185.70" y="916.20" width="5.30" height="3.10" fill="url(#g40)"/>
<rect x="1191.00" y="916.20" width="4.00" height="3.10" fill="url(#g41)"/>
<rect x="1195.00" y="916.20" width="26.00" height="3.10" fill="url(#g42)"/>
<rect x="1221.00" y="916.20" width="8.30" height="3.10" fill="url(#g43)"/>
<rect x="1240.95" y="939.60" width="6.05" height="74.90" fill="url(#g00)"/>
<rect x="1247.00" y="939.60" width="4.00" height="74.90" fill="url(#g01)"/>
<rect x="1251.00" y="939.60" width="26.00" height="74.90" fill="url(#g02)"/>
<rect x="1277.00" y="939.60" width="7.55" height="74.90" fill="url(#g03)"/>
<rect x="1240.95" y="929.00" width="6.05" height="10.60" fill="url(#g10)"/>
<rect x="1247.00" y="929.00" width="4.00" height="10.60" fill="url(#g11)"/>
<rect x="1251.00" y="929.00" width="26.00" height="10.60" fill="url(#g12)"/>
<rect x="1277.00" y="929.00" width="7.55" height="10.60" fill="url(#g13)"/>
<rect x="1240.95" y="925.80" width="6.05" height="3.20" fill="url(#g20)"/>
<rect x="1247.00" y="925.80" width="4.00" height="3.20" fill="url(#g21)"/>
<rect x="1251.00" y="925.80" width="26.00" height="3.20" fill="url(#g22)"/>
<rect x="1277.00" y="925.80" width="7.55" height="3.20" fill="url(#g23)"/>
<rect x="1240.95" y="917.50" width="6.05" height="8.30" fill="url(#g30)"/>
<rect x="1247.00" y="917.50" width="4.00" height="8.30" fill="url(#g31)"/>
<rect x="1251.00" y="917.50" width="26.00" height="8.30" fill="url(#g32)"/>
<rect x="1277.00" y="917.50" width="7.55" height="8.30" fill="url(#g33)"/>
<rect x="1240.95" y="915.60" width="6.05" height="1.90" fill="url(#g40)"/>
<rect x="1247.00" y="915.60" width="4.00" height="1.90" fill="url(#g41)"/>
<rect x="1251.00" y="915.60" width="26.00" height="1.90" fill="url(#g42)"/>
<rect x="1277.00" y="915.60" width="7.55" height="1.90" fill="url(#g43)"/>
<rect x="1296.20" y="989.80" width="4.80" height="24.70" fill="url(#g00)"/>
<rect x="1301.00" y="989.80" width="4.00" height="24.70" fill="url(#g01)"/>
<rect x="1305.00" y="989.80" width="28.00" height="24.70" fill="url(#g02)"/>
<rect x="1333.00" y="989.80" width="6.80" height="24.70" fill="url(#g03)"/>
<rect x="1296.20" y="978.60" width="4.80" height="11.20" fill="url(#g10)"/>
<rect x="1301.00" y="978.60" width="4.00" height="11.20" fill="url(#g11)"/>
<rect x="1305.00" y="978.60" width="28.00" height="11.20" fill="url(#g12)"/>
<rect x="1333.00" y="978.60" width="6.80" height="11.20" fill="url(#g13)"/>
<rect x="1296.20" y="975.60" width="4.80" height="3.00" fill="url(#g20)"/>
<rect x="1301.00" y="975.60" width="4.00" height="3.00" fill="url(#g21)"/>
<rect x="1305.00" y="975.60" width="28.00" height="3.00" fill="url(#g22)"/>
<rect x="1333.00" y="975.60" width="6.80" height="3.00" fill="url(#g23)"/>
<rect x="1296.20" y="963.20" width="4.80" height="12.40" fill="url(#g30)"/>
<rect x="1301.00" y="963.20" width="4.00" height="12.40" fill="url(#g31)"/>
<rect x="1305.00" y="963.20" width="28.00" height="12.40" fill="url(#g32)"/>
<rect x="1333.00" y="963.20" width="6.80" height="12.40" fill="url(#g33)"/>
<rect x="1296.20" y="960.50" width="4.80" height="2.70" fill="url(#g40)"/>
<rect x="1301.00" y="960.50" width="4.00" height="2.70" fill="url(#g41)"/>
<rect x="1305.00" y="960.50" width="28.00" height="2.70" fill="url(#g42)"/>
<rect x="1333.00" y="960.50" width="6.80" height="2.70" fill="url(#g43)"/>
<rect x="1351.45" y="1001.60" width="5.55" height="12.90" fill="url(#g00)"/>
<rect x="1357.00" y="1001.60" width="4.00" height="12.90" fill="url(#g01)"/>
<rect x="1361.00" y="1001.60" width="26.00" height="12.90" fill="url(#g02)"/>
<rect x="1387.00" y="1001.60" width="8.05" height="12.90" fill="url(#g03)"/>
<rect x="1351.45" y="991.00" width="5.55" height="10.60" fill="url(#g10)"/>
<rect x="1357.00" y="991.00" width="4.00" height="10.60" fill="url(#g11)"/>
<rect x="1361.00" y="991.00" width="26.00" height="10.60" fill="url(#g12)"/>
<rect x="1387.00" y="991.00" width="8.05" height="10.60" fill="url(#g13)"/>
<rect x="1351.45" y="988.00" width="5.55" height="3.00" fill="url(#g20)"/>
<rect x="1357.00" y="988.00" width="4.00" height="3.00" fill="url(#g21)"/>
<rect x="1361.00" y="988.00" width="26.00" height="3.00" fill="url(#g22)"/>
<rect x="1387.00" y="988.00" width="8.05" height="3.00" fill="url(#g23)"/>
<rect x="1351.45" y="975.60" width="5.55" height="12.40" fill="url(#g30)"/>
<rect x="1357.00" y="975.60" width="4.00" height="12.40" fill="url(#g31)"/>
<rect x="1361.00" y="975.60" width="26.00" height="12.40" fill="url(#g32)"/>
<rect x="1387.00" y="975.60" width="8.05" height="12.40" fill="url(#g33)"/>
<rect x="1351.45" y="973.90" width="5.55" height="1.70" fill="url(#g40)"/>
<rect x="1357.00" y="973.90" width="4.00" height="1.70" fill="url(#g41)"/>
<rect x="1361.00" y="973.90" width="26.00" height="1.70" fill="url(#g42)"/>
<rect x="1387.00" y="973.90" width="8.05" height="1.70" fill="url(#g43)"/>
<rect x="1406.70" y="1006.60" width="6.30" height="7.90" fill="url(#g00)"/>
<rect x="1413.00" y="1006.60" width="4.00" height="7.90" fill="url(#g01)"/>
<rect x="1417.00" y="1006.60" width="26.00" height="7.90" fill="url(#g02)"/>
<rect x="1443.00" y="1006.60" width="7.30" height="7.90" fill="url(#g03)"/>
<rect x="1406.70" y="1000.50" width="6.30" height="6.10" fill="url(#g10)"/>
<rect x="1413.00" y="1000.50" width="4.00" height="6.10" fill="url(#g11)"/>
<rect x="1417.00" y="1000.50" width="26.00" height="6.10" fill="url(#g12)"/>
<rect x="1443.00" y="1000.50" width="7.30" height="6.10" fill="url(#g13)"/>
<rect x="1406.70" y="997.70" width="6.30" height="2.80" fill="url(#g20)"/>
<rect x="1413.00" y="997.70" width="4.00" height="2.80" fill="url(#g21)"/>
<rect x="1417.00" y="997.70" width="26.00" height="2.80" fill="url(#g22)"/>
<rect x="1443.00" y="997.70" width="7.30" height="2.80" fill="url(#g23)"/>
<rect x="1406.70" y="985.60" width="6.30" height="12.10" fill="url(#g30)"/>
<rect x="1413.00" y="985.60" width="4.00" height="12.10" fill="url(#g31)"/>
<rect x="1417.00" y="985.60" width="26.00" height="12.10" fill="url(#g32)"/>
<rect x="1443.00" y="985.60" width="7.30" height="12.10" fill="url(#g33)"/>
<rect x="1406.70" y="982.70" width="6.30" height="2.90" fill="url(#g40)"/>
<rect x="1413.00" y="982.70" width="4.00" height="2.90" fill="url(#g41)"/>
<rect x="1417.00" y="982.70" width="26.00" height="2.90" fill="url(#g42)"/>
<rect x="1443.00" y="982.70" width="7.30" height="2.90" fill="url(#g43)"/>
<rect x="1461.95" y="1005.80" width="5.05" height="8.70" fill="url(#g00)"/>
<rect x="1467.00" y="1005.80" width="4.00" height="8.70" fill="url(#g01)"/>
<rect x="1471.00" y="1005.80" width="26.00" height="8.70" fill="url(#g02)"/>
<rect x="1497.00" y="1005.80" width="8.55" height="8.70" fill="url(#g03)"/>
<rect x="1461.95" y="1002.40" width="5.05" height="3.40" fill="url(#g10)"/>
<rect x="1467.00" y="1002.40" width="4.00" height="3.40" fill="url(#g11)"/>
<rect x="1471.00" y="1002.40" width="26.00" height="3.40" fill="url(#g12)"/>
<rect x="1497.00" y="1002.40" width="8.55" height="3.40" fill="url(#g13)"/>
<rect x="1461.95" y="973.80" width="5.05" height="28.60" fill="url(#g20)"/>
<rect x="1467.00" y="973.80" width="4.00" height="28.60" fill="url(#g21)"/>
<rect x="1471.00" y="973.80" width="26.00" height="28.60" fill="url(#g22)"/>
<rect x="1497.00" y="973.80" width="8.55" height="28.60" fill="url(#g23)"/>
<rect x="1461.95" y="962.00" width="5.05" height="11.80" fill="url(#g30)"/>
<rect x="1467.00" y="962.00" width="4.00" height="11.80" fill="url(#g31)"/>
<rect x="1471.00" y="962.00" width="26.00" height="11.80" fill="url(#g32)"/>
<rect x="1497.00" y="962.00" width="8.55" height="11.80" fill="url(#g33)"/>
<rect x="1461.95" y="960.10" width="5.05" height="1.90" fill="url(#g40)"/>
<rect x="1467.00" y="960.10" width="4.00" height="1.90" fill="url(#g41)"/>
<rect x="1471.00" y="960.10" width="26.00" height="1.90" fill="url(#g42)"/>
<rect x="1497.00" y="960.10" width="8.55" height="1.90" fill="url(#g43)"/>
</g>
<rect x="118.80" y="97.10" width="1459.80" height="917.40" fill="none" stroke="rgba(32,32,32,0.49)" stroke-width="2"/>
<polyline points="213.00,144.70 268.25,162.80 323.50,190.90 378.75,248.80 434.00,308.60 489.25,371.00 544.50,423.00 599.75,469.00 655.00,487.30 710.25,487.30 765.50,478.90 820.75,430.80 876.00,392.50 931.25,356.50 986.50,309.00 1041.75,262.90 1097.00,238.80 1152.25,220.90 1207.50,200.70 1262.75,182.90 1318.00,154.70 1373.25,141.00 1428.50,141.00 1483.75,141.00" fill="none" stroke="#000" stroke-width="2" stroke-linejoin="miter"/>
<line x1="213.00" y1="318.60" x2="268.25" y2="316.80" stroke="#000" stroke-width="4" stroke-dasharray="12 12" stroke-linecap="square"/>
<line x1="268.25" y1="316.80" x2="323.50" y2="339.00" stroke="#000" stroke-width="4" stroke-dasharray="12 12" stroke-linecap="square"/>
<line x1="323.50" y1="339.00" x2="378.75" y2="386.60" stroke="#000" stroke-width="4" stroke-dasharray="12 12" stroke-linecap="square"/>
<line x1="378.75" y1="386.60" x2="434.00" y2="471.40" stroke="#000" stroke-width="4" stroke-dasharray="12 12" stroke-linecap="square"/>
<line x1="434.00" y1="471.40" x2="489.25" y2="576.50" stroke="#000" stroke-width="4" stroke-dasharray="12 12" stroke-linecap="square"/>
<line x1="489.25" y1="576.50" x2="544.50" y2="676.50" stroke="#000" stroke-width="4" stroke-dasharray="12 12" stroke-linecap="square"/>
<line x1="544.50" y1="676.50" x2="599.75" y2="746.80" stroke="#000" stroke-width="4" stroke-dasharray="12 12" stroke-linecap="square"/>
<line x1="599.75" y1="746.80" x2="655.00" y2="814.50" stroke="#000" stroke-width="4" stroke-dasharray="12 12" stroke-linecap="square"/>
<line x1="655.00" y1="814.50" x2="710.25" y2="856.60" stroke="#000" stroke-width="4" stroke-dasharray="12 12" stroke-linecap="square"/>
<line x1="710.25" y1="856.60" x2="765.50" y2="896.80" stroke="#000" stroke-width="4" stroke-dasharray="12 12" stroke-linecap="square"/>
<line x1="765.50" y1="896.80" x2="820.75" y2="891.20" stroke="#000" stroke-width="4" stroke-dasharray="12 12" stroke-linecap="square"/>
<line x1="820.75" y1="891.20" x2="876.00" y2="883.10" stroke="#000" stroke-width="4" stroke-dasharray="12 12" stroke-linecap="square"/>
<line x1="876.00" y1="883.10" x2="931.25" y2="869.20" stroke="#000" stroke-width="4" stroke-dasharray="12 12" stroke-linecap="square"/>
<line x1="931.25" y1="869.20" x2="986.50" y2="794.90" stroke="#000" stroke-width="4" stroke-dasharray="12 12" stroke-linecap="square"/>
<line x1="986.50" y1="794.90" x2="1041.75" y2="720.20" stroke="#000" stroke-width="4" stroke-dasharray="12 12" stroke-linecap="square"/>
<line x1="1041.75" y1="720.20" x2="1097.00" y2="618.30" stroke="#000" stroke-width="4" stroke-dasharray="12 12" stroke-linecap="square"/>
<line x1="1097.00" y1="618.30" x2="1152.25" y2="536.10" stroke="#000" stroke-width="4" stroke-dasharray="12 12" stroke-linecap="square"/>
<line x1="1152.25" y1="536.10" x2="1207.50" y2="476.50" stroke="#000" stroke-width="4" stroke-dasharray="12 12" stroke-linecap="square"/>
<line x1="1207.50" y1="476.50" x2="1262.75" y2="421.90" stroke="#000" stroke-width="4" stroke-dasharray="12 12" stroke-linecap="square"/>
<line x1="1262.75" y1="421.90" x2="1318.00" y2="368.30" stroke="#000" stroke-width="4" stroke-dasharray="12 12" stroke-linecap="square"/>
<line x1="1318.00" y1="368.30" x2="1373.25" y2="359.00" stroke="#000" stroke-width="4" stroke-dasharray="12 12" stroke-linecap="square"/>
<line x1="1373.25" y1="359.00" x2="1428.50" y2="323.20" stroke="#000" stroke-width="4" stroke-dasharray="12 12" stroke-linecap="square"/>
<line x1="1428.50" y1="323.20" x2="1483.75" y2="332.50" stroke="#000" stroke-width="4" stroke-dasharray="12 12" stroke-linecap="square"/>
<line x1="213.00" y1="622.50" x2="268.25" y2="596.30" stroke="#000" stroke-width="4" stroke-dasharray="4 8" stroke-linecap="square"/>
<line x1="268.25" y1="596.30" x2="323.50" y2="618.40" stroke="#000" stroke-width="4" stroke-dasharray="4 8" stroke-linecap="square"/>
<line x1="323.50" y1="618.40" x2="378.75" y2="677.10" stroke="#000" stroke-width="4" stroke-dasharray="4 8" stroke-linecap="square"/>
<line x1="378.75" y1="677.10" x2="434.00" y2="734.10" stroke="#000" stroke-width="4" stroke-dasharray="4 8" stroke-linecap="square"/>
<line x1="434.00" y1="734.10" x2="489.25" y2="815.60" stroke="#000" stroke-width="4" stroke-dasharray="4 8" stroke-linecap="square"/>
<line x1="489.25" y1="815.60" x2="544.50" y2="855.40" stroke="#000" stroke-width="4" stroke-dasharray="4 8" stroke-linecap="square"/>
<line x1="544.50" y1="855.40" x2="599.75" y2="898.70" stroke="#000" stroke-width="4" stroke-dasharray="4 8" stroke-linecap="square"/>
<line x1="599.75" y1="898.70" x2="655.00" y2="940.80" stroke="#000" stroke-width="4" stroke-dasharray="4 8" stroke-linecap="square"/>
<line x1="655.00" y1="940.80" x2="710.25" y2="961.00" stroke="#000" stroke-width="4" stroke-dasharray="4 8" stroke-linecap="square"/>
<line x1="710.25" y1="961.00" x2="765.50" y2="976.60" stroke="#000" stroke-width="4" stroke-dasharray="4 8" stroke-linecap="square"/>
<line x1="765.50" y1="976.60" x2="820.75" y2="984.50" stroke="#000" stroke-width="4" stroke-dasharray="4 8" stroke-linecap="square"/>
<line x1="820.75" y1="984.50" x2="876.00" y2="1005.80" stroke="#000" stroke-width="4" stroke-dasharray="4 8" stroke-linecap="square"/>
<line x1="876.00" y1="1005.80" x2="931.25" y2="1005.80" stroke="#000" stroke-width="4" stroke-dasharray="4 8" stroke-linecap="square"/>
<line x1="931.25" y1="1005.80" x2="986.50" y2="1001.00" stroke="#000" stroke-width="4" stroke-dasharray="4 8" stroke-linecap="square"/>
<line x1="986.50" y1="1001.00" x2="1041.75" y2="984.50" stroke="#000" stroke-width="4" stroke-dasharray="4 8" stroke-linecap="square"/>
<line x1="1041.75" y1="984.50" x2="1097.00" y2="944.50" stroke="#000" stroke-width="4" stroke-dasharray="4 8" stroke-linecap="square"/>
<line x1="1097.00" y1="944.50" x2="1152.25" y2="926.50" stroke="#000" stroke-width="4" stroke-dasharray="4 8" stroke-linecap="square"/>
<line x1="1152.25" y1="926.50" x2="1207.50" y2="884.30" stroke="#000" stroke-width="4" stroke-dasharray="4 8" stroke-linecap="square"/>
<line x1="1207.50" y1="884.30" x2="1262.75" y2="839.90" stroke="#000" stroke-width="4" stroke-dasharray="4 8" stroke-linecap="square"/>
<line x1="1262.75" y1="839.90" x2="1318.00" y2="791.30" stroke="#000" stroke-width="4" stroke-dasharray="4 8" stroke-linecap="square"/>
<line x1="1318.00" y1="791.30" x2="1373.25" y2="779.20" stroke="#000" stroke-width="4" stroke-dasharray="4 8" stroke-linecap="square"/>
<line x1="1373.25" y1="779.20" x2="1428.50" y2="708.10" stroke="#000" stroke-width="4" stroke-dasharray="4 8" stroke-linecap="square"/>
<line x1="1428.50" y1="708.10" x2="1483.75" y2="647.30" stroke="#000" stroke-width="4" stroke-dasharray="4 8" stroke-linecap="square"/>
<rect x="206.20" y="137.90" width="13.6" height="13.6" fill="#000"/>
<circle cx="213.00" cy="318.60" r="6.8" fill="#000"/>
<path d="M213.00,615.30L220.20,629.70L205.80,629.70Z" fill="#000"/>
<rect x="261.45" y="156.00" width="13.6" height="13.6" fill="#000"/>
<circle cx="268.25" cy="316.80" r="6.8" fill="#000"/>
<path d="M268.25,589.10L275.45,603.50L261.05,603.50Z" fill="#000"/>
<rect x="316.70" y="184.10" width="13.6" height="13.6" fill="#000"/>
<circle cx="323.50" cy="339.00" r="6.8" fill="#000"/>
<path d="M323.50,611.20L330.70,625.60L316.30,625.60Z" fill="#000"/>
<rect x="371.95" y="242.00" width="13.6" height="13.6" fill="#000"/>
<circle cx="378.75" cy="386.60" r="6.8" fill="#000"/>
<path d="M378.75,669.90L385.95,684.30L371.55,684.30Z" fill="#000"/>
<rect x="427.20" y="301.80" width="13.6" height="13.6" fill="#000"/>
<circle cx="434.00" cy="471.40" r="6.8" fill="#000"/>
<path d="M434.00,726.90L441.20,741.30L426.80,741.30Z" fill="#000"/>
<rect x="482.45" y="364.20" width="13.6" height="13.6" fill="#000"/>
<circle cx="489.25" cy="576.50" r="6.8" fill="#000"/>
<path d="M489.25,808.40L496.45,822.80L482.05,822.80Z" fill="#000"/>
<rect x="537.70" y="416.20" width="13.6" height="13.6" fill="#000"/>
<circle cx="544.50" cy="676.50" r="6.8" fill="#000"/>
<path d="M544.50,848.20L551.70,862.60L537.30,862.60Z" fill="#000"/>
<rect x="592.95" y="462.20" width="13.6" height="13.6" fill="#000"/>
<circle cx="599.75" cy="746.80" r="6.8" fill="#000"/>
<path d="M599.75,891.50L606.95,905.90L592.55,905.90Z" fill="#000"/>
<rect x="648.20" y="480.50" width="13.6" height="13.6" fill="#000"/>
<circle cx="655.00" cy="814.50" r="6.8" fill="#000"/>
<path d="M655.00,933.60L662.20,948.00L647.80,948.00Z" fill="#000"/>
<rect x="703.45" y="480.50" width="13.6" height="13.6" fill="#000"/>
<circle cx="710.25" cy="856.60" r="6.8" fill="#000"/>
<path d="M710.25,953.80L717.45,968.20L703.05,968.20Z" fill="#000"/>
<rect x="758.70" y="472.10" width="13.6" height="13.6" fill="#000"/>
<circle cx="765.50" cy="896.80" r="6.8" fill="#000"/>
<path d="M765.50,969.40L772.70,983.80L758.30,983.80Z" fill="#000"/>
<rect x="813.95" y="424.00" width="13.6" height="13.6" fill="#000"/>
<circle cx="820.75" cy="891.20" r="6.8" fill="#000"/>
<path d="M820.75,977.30L827.95,991.70L813.55,991.70Z" fill="#000"/>
<rect x="869.20" y="385.70" width="13.6" height="13.6" fill="#000"/>
<circle cx="876.00" cy="883.10" r="6.8" fill="#000"/>
<path d="M876.00,998.60L883.20,1013.00L868.80,1013.00Z" fill="#000"/>
<rect x="924.45" y="349.70" width="13.6" height="13.6" fill="#000"/>
<circle cx="931.25" cy="869.20" r="6.8" fill="#000"/>
<path d="M931.25,998.60L938.45,1013.00L924.05,1013.00Z" fill="#000"/>
<rect x="979.70" y="302.20" width="13.6" height="13.6" fill="#000"/>
<circle cx="986.50" cy="794.90" r="6.8" fill="#000"/>
<path d="M986.50,993.80L993.70,1008.20L979.30,1008.20Z" fill="#000"/>
<rect x="1034.95" y="256.10" width="13.6" height="13.6" fill="#000"/>
<circle cx="1041.75" cy="720.20" r="6.8" fill="#000"/>
<path d="M1041.75,977.30L1048.95,991.70L1034.55,991.70Z" fill="#000"/>
<rect x="1090.20" y="232.00" width="13.6" height="13.6" fill="#000"/>
<circle cx="1097.00" cy="618.30" r="6.8" fill="#000"/>
<path d="M1097.00,937.30L1104.20,951.70L1089.80,951.70Z" fill="#000"/>
<rect x="1145.45" y="214.10" width="13.6" height="13.6" fill="#000"/>
<circle cx="1152.25" cy="536.10" r="6.8" fill="#000"/>
<path d="M1152.25,919.30L1159.45,933.70L1145.05,933.70Z" fill="#000"/>
<rect x="1200.70" y="193.90" width="13.6" height="13.6" fill="#000"/>
<circle cx="1207.50" cy="476.50" r="6.8" fill="#000"/>
<path d="M1207.50,877.10L1214.70,891.50L1200.30,891.50Z" fill="#000"/>
<rect x="1255.95" y="176.10" width="13.6" height="13.6" fill="#000"/>
<circle cx="1262.75" cy="421.90" r="6.8" fill="#000"/>
<path d="M1262.75,832.70L1269.95,847.10L1255.55,847.10Z" fill="#000"/>
<rect x="1311.20" y="147.90" width="13.6" height="13.6" fill="#000"/>
<circle cx="1318.00" cy="368.30" r="6.8" fill="#000"/>
<path d="M1318.00,784.10L1325.20,798.50L1310.80,798.50Z" fill="#000"/>
<rect x="1366.45" y="134.20" width="13.6" height="13.6" fill="#000"/>
<circle cx="1373.25" cy="359.00" r="6.8" fill="#000"/>
<path d="M1373.25,772.00L1380.45,786.40L1366.05,786.40Z" fill="#000"/>
<rect x="1421.70" y="134.20" width="13.6" height="13.6" fill="#000"/>
<circle cx="1428.50" cy="323.20" r="6.8" fill="#000"/>
<path d="M1428.50,700.90L1435.70,715.30L1421.30,715.30Z" fill="#000"/>
<rect x="1476.95" y="134.20" width="13.6" height="13.6" fill="#000"/>
<circle cx="1483.75" cy="332.50" r="6.8" fill="#000"/>
<path d="M1483.75,640.10L1490.95,654.50L1476.55,654.50Z" fill="#000"/>
<line x1="111" y1="96.10" x2="111" y2="1015.50" stroke="#898989" stroke-width="2"/>
<line x1="105.5" y1="1014.70" x2="111" y2="1014.70" stroke="#898989" stroke-width="2"/>
<line x1="105.5" y1="966.70" x2="111" y2="966.70" stroke="#898989" stroke-width="2"/>
<line x1="105.5" y1="920.80" x2="111" y2="920.80" stroke="#898989" stroke-width="2"/>
<line x1="105.5" y1="872.90" x2="111" y2="872.90" stroke="#898989" stroke-width="2"/>
<line x1="105.5" y1="826.60" x2="111" y2="826.60" stroke="#898989" stroke-width="2"/>
<line x1="105.5" y1="778.70" x2="111" y2="778.70" stroke="#898989" stroke-width="2"/>
<line x1="105.5" y1="732.70" x2="111" y2="732.70" stroke="#898989" stroke-width="2"/>
<line x1="105.5" y1="684.80" x2="111" y2="684.80" stroke="#898989" stroke-width="2"/>
<line x1="105.5" y1="638.90" x2="111" y2="638.90" stroke="#898989" stroke-width="2"/>
<line x1="105.5" y1="591.00" x2="111" y2="591.00" stroke="#898989" stroke-width="2"/>
<line x1="105.5" y1="544.70" x2="111" y2="544.70" stroke="#898989" stroke-width="2"/>
<line x1="105.5" y1="496.70" x2="111" y2="496.70" stroke="#898989" stroke-width="2"/>
<line x1="105.5" y1="450.80" x2="111" y2="450.80" stroke="#898989" stroke-width="2"/>
<line x1="105.5" y1="402.90" x2="111" y2="402.90" stroke="#898989" stroke-width="2"/>
<line x1="105.5" y1="356.60" x2="111" y2="356.60" stroke="#898989" stroke-width="2"/>
<line x1="105.5" y1="308.70" x2="111" y2="308.70" stroke="#898989" stroke-width="2"/>
<line x1="105.5" y1="262.70" x2="111" y2="262.70" stroke="#898989" stroke-width="2"/>
<line x1="105.5" y1="214.80" x2="111" y2="214.80" stroke="#898989" stroke-width="2"/>
<line x1="105.5" y1="168.90" x2="111" y2="168.90" stroke="#898989" stroke-width="2"/>
<line x1="105.5" y1="120.80" x2="111" y2="120.80" stroke="#898989" stroke-width="2"/>
<line x1="117.80" y1="1022.8" x2="1579.60" y2="1022.8" stroke="#898989" stroke-width="2"/>
<text x="97.3" y="1022.45" font-size="25" fill="#666666" text-anchor="end" textLength="15.60" lengthAdjust="spacingAndGlyphs">0</text>
<text x="97.3" y="976.45" font-size="25" fill="#666666" text-anchor="end" textLength="15.60" lengthAdjust="spacingAndGlyphs">5</text>
<text x="97.3" y="927.55" font-size="25" fill="#666666" text-anchor="end" textLength="31.17" lengthAdjust="spacingAndGlyphs">10</text>
<text x="97.3" y="881.65" font-size="25" fill="#666666" text-anchor="end" textLength="31.17" lengthAdjust="spacingAndGlyphs">15</text>
<text x="97.3" y="833.75" font-size="25" fill="#666666" text-anchor="end" textLength="31.17" lengthAdjust="spacingAndGlyphs">20</text>
<text x="97.3" y="787.45" font-size="25" fill="#666666" text-anchor="end" textLength="31.17" lengthAdjust="spacingAndGlyphs">25</text>
<text x="97.3" y="739.45" font-size="25" fill="#666666" text-anchor="end" textLength="31.17" lengthAdjust="spacingAndGlyphs">30</text>
<text x="97.3" y="693.55" font-size="25" fill="#666666" text-anchor="end" textLength="31.17" lengthAdjust="spacingAndGlyphs">35</text>
<text x="97.3" y="646.25" font-size="25" fill="#666666" text-anchor="end" textLength="31.17" lengthAdjust="spacingAndGlyphs">40</text>
<text x="97.3" y="600.35" font-size="25" fill="#666666" text-anchor="end" textLength="31.17" lengthAdjust="spacingAndGlyphs">45</text>
<text x="97.3" y="552.45" font-size="25" fill="#666666" text-anchor="end" textLength="31.17" lengthAdjust="spacingAndGlyphs">50</text>
<text x="97.3" y="506.45" font-size="25" fill="#666666" text-anchor="end" textLength="31.17" lengthAdjust="spacingAndGlyphs">55</text>
<text x="97.3" y="457.55" font-size="25" fill="#666666" text-anchor="end" textLength="31.17" lengthAdjust="spacingAndGlyphs">60</text>
<text x="97.3" y="411.65" font-size="25" fill="#666666" text-anchor="end" textLength="31.17" lengthAdjust="spacingAndGlyphs">65</text>
<text x="97.3" y="363.35" font-size="25" fill="#666666" text-anchor="end" textLength="31.17" lengthAdjust="spacingAndGlyphs">70</text>
<text x="97.3" y="317.45" font-size="25" fill="#666666" text-anchor="end" textLength="31.17" lengthAdjust="spacingAndGlyphs">75</text>
<text x="97.3" y="269.55" font-size="25" fill="#666666" text-anchor="end" textLength="31.17" lengthAdjust="spacingAndGlyphs">80</text>
<text x="97.3" y="223.55" font-size="25" fill="#666666" text-anchor="end" textLength="31.17" lengthAdjust="spacingAndGlyphs">85</text>
<text x="97.3" y="175.65" font-size="25" fill="#666666" text-anchor="end" textLength="31.17" lengthAdjust="spacingAndGlyphs">90</text>
<text x="97.3" y="129.75" font-size="25" fill="#666666" text-anchor="end" textLength="31.17" lengthAdjust="spacingAndGlyphs">95</text>
<text transform="translate(216.50,1033.50) rotate(-45)" font-size="25" fill="#666666" text-anchor="end" dominant-baseline="hanging" textLength="54" lengthAdjust="spacingAndGlyphs">00.0</text>
<text transform="translate(271.75,1033.50) rotate(-45)" font-size="25" fill="#666666" text-anchor="end" dominant-baseline="hanging" textLength="54" lengthAdjust="spacingAndGlyphs">01.0</text>
<text transform="translate(327.00,1033.50) rotate(-45)" font-size="25" fill="#666666" text-anchor="end" dominant-baseline="hanging" textLength="54" lengthAdjust="spacingAndGlyphs">02.0</text>
<text transform="translate(382.25,1033.50) rotate(-45)" font-size="25" fill="#666666" text-anchor="end" dominant-baseline="hanging" textLength="54" lengthAdjust="spacingAndGlyphs">03.0</text>
<text transform="translate(437.50,1033.50) rotate(-45)" font-size="25" fill="#666666" text-anchor="end" dominant-baseline="hanging" textLength="54" lengthAdjust="spacingAndGlyphs">04.0</text>
<text transform="translate(492.75,1033.50) rotate(-45)" font-size="25" fill="#666666" text-anchor="end" dominant-baseline="hanging" textLength="54" lengthAdjust="spacingAndGlyphs">05.0</text>
<text transform="translate(548.00,1033.50) rotate(-45)" font-size="25" fill="#666666" text-anchor="end" dominant-baseline="hanging" textLength="54" lengthAdjust="spacingAndGlyphs">06.0</text>
<text transform="translate(603.25,1033.50) rotate(-45)" font-size="25" fill="#666666" text-anchor="end" dominant-baseline="hanging" textLength="54" lengthAdjust="spacingAndGlyphs">07.0</text>
<text transform="translate(658.50,1033.50) rotate(-45)" font-size="25" fill="#666666" text-anchor="end" dominant-baseline="hanging" textLength="54" lengthAdjust="spacingAndGlyphs">08.0</text>
<text transform="translate(713.75,1033.50) rotate(-45)" font-size="25" fill="#666666" text-anchor="end" dominant-baseline="hanging" textLength="54" lengthAdjust="spacingAndGlyphs">09.0</text>
<text transform="translate(769.00,1033.50) rotate(-45)" font-size="25" fill="#666666" text-anchor="end" dominant-baseline="hanging" textLength="54" lengthAdjust="spacingAndGlyphs">10.0</text>
<text transform="translate(824.25,1033.50) rotate(-45)" font-size="25" fill="#666666" text-anchor="end" dominant-baseline="hanging" textLength="54" lengthAdjust="spacingAndGlyphs">11.0</text>
<text transform="translate(879.50,1033.50) rotate(-45)" font-size="25" fill="#666666" text-anchor="end" dominant-baseline="hanging" textLength="54" lengthAdjust="spacingAndGlyphs">12.0</text>
<text transform="translate(934.75,1033.50) rotate(-45)" font-size="25" fill="#666666" text-anchor="end" dominant-baseline="hanging" textLength="54" lengthAdjust="spacingAndGlyphs">13.0</text>
<text transform="translate(990.00,1033.50) rotate(-45)" font-size="25" fill="#666666" text-anchor="end" dominant-baseline="hanging" textLength="54" lengthAdjust="spacingAndGlyphs">14.0</text>
<text transform="translate(1045.25,1033.50) rotate(-45)" font-size="25" fill="#666666" text-anchor="end" dominant-baseline="hanging" textLength="54" lengthAdjust="spacingAndGlyphs">15.0</text>
<text transform="translate(1100.50,1033.50) rotate(-45)" font-size="25" fill="#666666" text-anchor="end" dominant-baseline="hanging" textLength="54" lengthAdjust="spacingAndGlyphs">16.0</text>
<text transform="translate(1155.75,1033.50) rotate(-45)" font-size="25" fill="#666666" text-anchor="end" dominant-baseline="hanging" textLength="54" lengthAdjust="spacingAndGlyphs">17.0</text>
<text transform="translate(1211.00,1033.50) rotate(-45)" font-size="25" fill="#666666" text-anchor="end" dominant-baseline="hanging" textLength="54" lengthAdjust="spacingAndGlyphs">18.0</text>
<text transform="translate(1266.25,1033.50) rotate(-45)" font-size="25" fill="#666666" text-anchor="end" dominant-baseline="hanging" textLength="54" lengthAdjust="spacingAndGlyphs">19.0</text>
<text transform="translate(1321.50,1033.50) rotate(-45)" font-size="25" fill="#666666" text-anchor="end" dominant-baseline="hanging" textLength="54" lengthAdjust="spacingAndGlyphs">20.0</text>
<text transform="translate(1376.75,1033.50) rotate(-45)" font-size="25" fill="#666666" text-anchor="end" dominant-baseline="hanging" textLength="54" lengthAdjust="spacingAndGlyphs">21.0</text>
<text transform="translate(1432.00,1033.50) rotate(-45)" font-size="25" fill="#666666" text-anchor="end" dominant-baseline="hanging" textLength="54" lengthAdjust="spacingAndGlyphs">22.0</text>
<text transform="translate(1487.25,1033.50) rotate(-45)" font-size="25" fill="#666666" text-anchor="end" dominant-baseline="hanging" textLength="54" lengthAdjust="spacingAndGlyphs">23.0</text>
<text x="586.26" y="37.6" font-size="42.3" font-weight="bold" fill="#000" textLength="433.93" lengthAdjust="spacingAndGlyphs">Scheduling Priority</text>
<text x="566.64" y="71.3" font-size="24.3" font-weight="bold" fill="#000" textLength="469.36" lengthAdjust="spacingAndGlyphs">26A / D Configuration / ^N Priority</text>
<text x="729.61" y="1129.8" font-size="28.8" font-weight="bold" fill="#4a4a4a" textLength="234.28" lengthAdjust="spacingAndGlyphs">VLA LST hours</text>
<text transform="translate(49.8,867.9) rotate(-90)" font-size="28.8" font-weight="bold" fill="#4a4a4a" textLength="624.29" lengthAdjust="spacingAndGlyphs">Number of sessions desiring each hour</text>
<rect x="162.7" y="1152.9" width="1278" height="41.5" fill="none" stroke="#111" stroke-width="2"/>
<rect x="169.90" y="1166.3" width="16" height="16" fill="rgb(80,250,40)" fill-opacity="0.5"/>
<text x="193.69" y="1181.8" font-size="25" fill="#666666" textLength="76.82" lengthAdjust="spacingAndGlyphs">A (HF)</text>
<rect x="282.00" y="1166.3" width="16" height="16" fill="rgb(56,128,32)" fill-opacity="1.0"/>
<text x="305.80" y="1181.8" font-size="25" fill="#666666">A</text>
<rect x="333.80" y="1166.3" width="16" height="16" fill="rgb(255,255,48)" fill-opacity="0.5"/>
<text x="357.32" y="1181.8" font-size="25" fill="#666666" textLength="76.64" lengthAdjust="spacingAndGlyphs">B (HF)</text>
<rect x="445.90" y="1166.3" width="16" height="16" fill="rgb(128,128,32)" fill-opacity="1.0"/>
<text x="469.30" y="1181.8" font-size="25" fill="#666666">B</text>
<rect x="497.80" y="1166.3" width="16" height="16" fill="rgb(255,0,0)" fill-opacity="0.5"/>
<text x="521.87" y="1181.8" font-size="25" fill="#666666" textLength="76.43" lengthAdjust="spacingAndGlyphs">C (HF)</text>
<rect x="609.90" y="1166.3" width="16" height="16" fill="rgb(128,16,16)" fill-opacity="1.0"/>
<text x="634.20" y="1181.8" font-size="25" fill="#666666">C</text>
<rect x="661.90" y="1166.3" width="16" height="16" fill="rgb(0,0,255)" fill-opacity="0.5"/>
<text x="685.60" y="1181.8" font-size="25" fill="#666666" textLength="78.75" lengthAdjust="spacingAndGlyphs">N (HF)</text>
<rect x="775.90" y="1166.3" width="16" height="16" fill="rgb(0,0,128)" fill-opacity="1.0"/>
<text x="798.80" y="1181.8" font-size="25" fill="#666666">N</text>
<line x1="830" y1="1175" x2="860" y2="1175" stroke="#000" stroke-width="2"/>
<rect x="838.5" y="1168.5" width="13" height="13" fill="#000"/>
<text x="866.59" y="1181.8" font-size="25" fill="#666666" textLength="127.68" lengthAdjust="spacingAndGlyphs">Availability</text>
<line x1="1007" y1="1175" x2="1035" y2="1175" stroke="#000" stroke-width="4" stroke-dasharray="12 12" stroke-linecap="square"/>
<circle cx="1021" cy="1175" r="6.6" fill="#000"/>
<text x="1042.49" y="1181.8" font-size="25" fill="#666666" textLength="169.14" lengthAdjust="spacingAndGlyphs">Availability (K)</text>
<line x1="1225" y1="1175" x2="1253" y2="1175" stroke="#000" stroke-width="4" stroke-dasharray="4 8" stroke-linecap="square"/>
<path d="M1239,1167.3L1246,1181.3L1232,1181.3Z" fill="#000"/>
<text x="1260.99" y="1181.8" font-size="25" fill="#666666" textLength="172.61" lengthAdjust="spacingAndGlyphs">Availability (Q)</text>
</g></svg></body></html>
